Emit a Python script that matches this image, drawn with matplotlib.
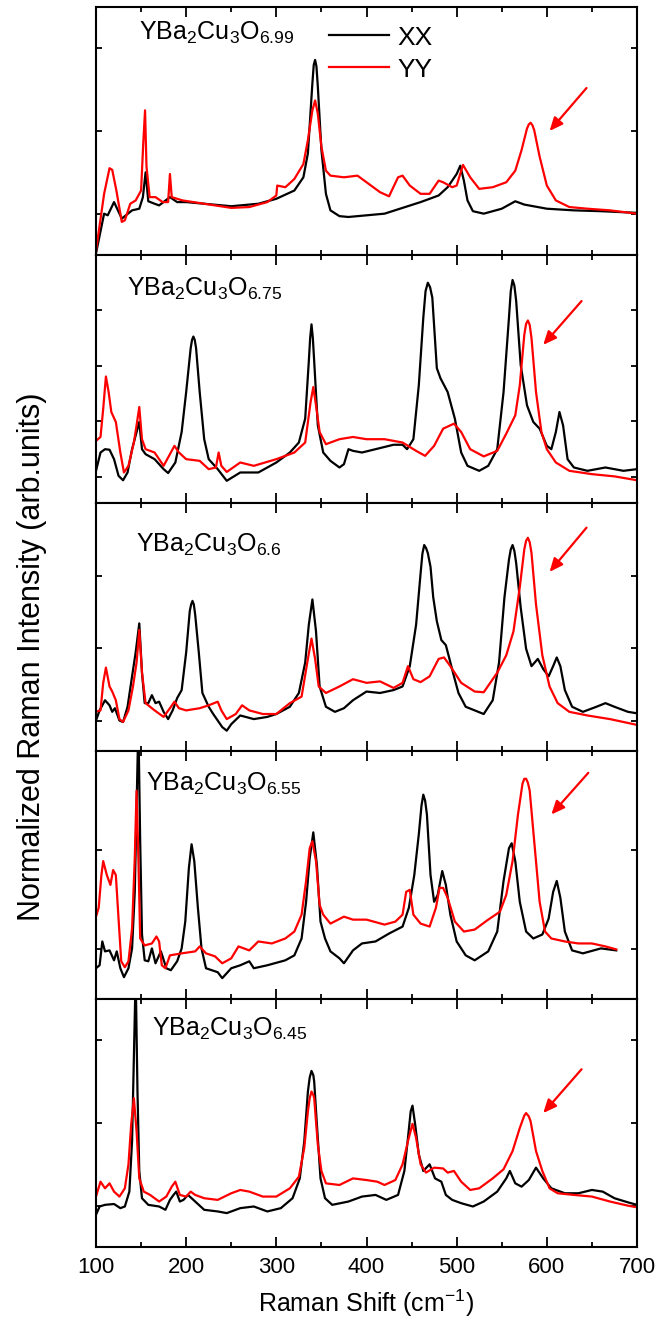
import matplotlib
matplotlib.use("Agg")
import matplotlib.pyplot as plt
from matplotlib.ticker import MultipleLocator

plt.rcParams['font.family'] = ['Liberation Sans', 'DejaVu Sans']
plt.rcParams['mathtext.fontset'] = 'custom'
plt.rcParams['mathtext.rm'] = 'Liberation Sans'
plt.rcParams['mathtext.it'] = 'Liberation Sans'
plt.rcParams['mathtext.default'] = 'rm'

# ---------------- data ----------------
labels = [r'YBa$_2$Cu$_3$O$_{6.99}$', r'YBa$_2$Cu$_3$O$_{6.75}$', r'YBa$_2$Cu$_3$O$_{6.6}$',
          r'YBa$_2$Cu$_3$O$_{6.55}$', r'YBa$_2$Cu$_3$O$_{6.45}$']
x_ticks = [100, 200, 300, 400, 500, 600, 700]

# each curve: (Raman shift, normalized intensity) pairs
p1_xx = [(100, -0.48), (109, 0.0), (113, -0.02), (120, 0.14), (128.6, -0.06), (140, 0.04), (148, 0.06),
         (152, 0.2), (155, 0.5), (158, 0.15), (165, 0.12), (170, 0.10), (182, 0.2), (190, 0.14), (200, 0.14),
         (230, 0.11), (250, 0.09), (280, 0.12), (300, 0.18), (320, 0.28), (330, 0.44), (335, 0.73),
         (340, 1.58), (341.5, 1.80), (343, 1.86), (344.5, 1.78), (346, 1.54), (350, 0.77), (355, 0.24),
         (360, 0.04), (370, -0.03), (380, -0.04), (400, -0.02), (420, 0.0), (440, 0.07), (460, 0.14),
         (480, 0.22), (490, 0.32), (500, 0.48), (504, 0.58), (508, 0.40), (512, 0.16), (518, 0.03),
         (530, 0.0), (550, 0.06), (565, 0.15), (575, 0.11), (600, 0.06), (630, 0.04), (660, 0.03), (700, 0.01)]
p1_yy = [(100, -0.45), (109, 0.24), (115, 0.55), (118, 0.53), (122.6, 0.28), (128.6, -0.1), (132, -0.08),
         (138, 0.12), (144, 0.16), (150, 0.28), (152.4, 0.85), (154.4, 1.25), (156, 0.57), (159.5, 0.2),
         (166, 0.2), (174, 0.14), (180, 0.14), (182, 0.48), (184, 0.2), (196, 0.16), (220, 0.12), (250, 0.07),
         (270, 0.08), (290, 0.14), (300, 0.22), (301, 0.34), (310, 0.32), (320, 0.42), (330, 0.6),
         (335, 0.89), (340, 1.25), (343, 1.37), (346, 1.21), (350, 0.81), (355, 0.52), (360, 0.46),
         (375, 0.44), (390, 0.46), (400, 0.38), (415, 0.26), (425, 0.21), (435, 0.44), (440, 0.46),
         (448, 0.34), (460, 0.24), (470, 0.24), (480, 0.40), (485, 0.38), (495, 0.32), (500, 0.34),
         (507, 0.59), (515, 0.44), (525, 0.30), (540, 0.32), (555, 0.38), (565, 0.52), (572, 0.77),
         (578, 1.03), (580, 1.08), (582, 1.10), (584, 1.07), (586, 1.01), (592, 0.69), (600, 0.34),
         (610, 0.16), (625, 0.08), (645, 0.06), (670, 0.04), (700, 0.0)]

p2_xx = [(100, 0.11), (105, 0.44), (110, 0.50), (115, 0.49), (120, 0.32), (125, 0.02), (130, -0.06),
         (135, 0.08), (140, 0.50), (145, 0.81), (148, 0.99), (151, 0.50), (155, 0.41), (165, 0.32),
         (175, 0.14), (180, 0.07), (188, 0.26), (195, 0.81), (200, 1.53), (205, 2.32), (206.5, 2.47),
         (208, 2.53), (209.5, 2.47), (211, 2.32), (215, 1.53), (220, 0.68), (225, 0.32), (235, 0.14),
         (245, -0.07), (260, 0.08), (280, 0.08), (300, 0.26), (315, 0.44), (325, 0.62), (332, 1.05),
         (336, 2.08), (337.5, 2.5), (339, 2.75), (340.5, 2.5), (342, 2.08), (346, 0.93), (352, 0.44),
         (360, 0.29), (370, 0.17), (375, 0.23), (380, 0.50), (385, 0.47), (395, 0.44), (410, 0.50),
         (430, 0.58), (440, 0.58), (445, 0.50), (452, 0.68), (458, 1.65), (463, 2.87), (465.5, 3.35),
         (468, 3.50), (470.5, 3.42), (473, 3.23), (478, 1.96), (482, 1.78), (490, 1.53), (498, 1.05),
         (505, 0.44), (512, 0.20), (525, 0.11), (535, 0.20), (545, 0.50), (552, 1.53), (558, 2.87),
         (560, 3.35), (562, 3.55), (564, 3.45), (566, 3.17), (571, 2.02), (578, 1.29), (585, 0.99),
         (592, 0.87), (600, 0.56), (605, 0.50), (610, 0.81), (614, 1.17), (618, 0.93), (623, 0.32),
         (630, 0.17), (645, 0.11), (665, 0.17), (685, 0.11), (700, 0.14)]
p2_yy = [(100, 0.65), (105, 0.72), (108, 1.23), (111, 1.81), (114, 1.53), (117, 1.17), (122, 0.99),
         (127, 0.44), (131, 0.08), (136, 0.20), (142, 0.62), (145, 0.93), (148, 1.26), (151, 0.68),
         (155, 0.50), (165, 0.44), (175, 0.20), (182, 0.41), (187, 0.56), (192, 0.44), (200, 0.32),
         (215, 0.29), (225, 0.14), (233, 0.17), (236, 0.44), (239, 0.20), (245, 0.09), (260, 0.26),
         (275, 0.20), (300, 0.32), (320, 0.44), (332, 0.62), (338, 1.35), (341, 1.62), (344, 1.29),
         (348, 0.81), (355, 0.59), (370, 0.68), (385, 0.72), (400, 0.68), (420, 0.68), (440, 0.62),
         (455, 0.47), (465, 0.38), (475, 0.56), (485, 0.87), (497, 0.96), (505, 0.81), (515, 0.50),
         (530, 0.37), (545, 0.47), (555, 0.78), (565, 1.11), (570, 1.65), (575, 2.56), (577, 2.76),
         (579, 2.82), (581, 2.74), (583, 2.50), (588, 1.53), (594, 0.81), (600, 0.50), (610, 0.26),
         (625, 0.11), (650, 0.05), (675, 0.01), (700, -0.06)]

p3_xx = [(100, 0.0), (104, 0.14), (110, 0.28), (115, 0.21), (118, 0.12), (121, 0.17), (126, 0.0),
         (130, -0.02), (135, 0.19), (140, 0.61), (144, 0.94), (148, 1.34), (151, 0.66), (154, 0.24),
         (158, 0.24), (162, 0.35), (166, 0.24), (170, 0.26), (175, 0.12), (180, 0.02), (185, 0.14),
         (190, 0.31), (195, 0.42), (200, 0.94), (204, 1.51), (205.5, 1.6), (207, 1.65), (208.5, 1.6),
         (210, 1.46), (214, 0.94), (218, 0.38), (225, 0.19), (230, 0.09), (240, -0.09), (245, -0.14),
         (250, -0.05), (260, 0.07), (275, 0.02), (290, 0.05), (300, 0.09), (315, 0.19), (325, 0.38),
         (332, 0.80), (336, 1.32), (340, 1.67), (344, 1.23), (348, 0.47), (355, 0.19), (365, 0.12),
         (375, 0.17), (385, 0.28), (400, 0.40), (415, 0.38), (430, 0.42), (440, 0.47), (448, 0.75),
         (455, 1.32), (460, 2.03), (462, 2.3), (464, 2.42), (466, 2.38), (468, 2.31), (471, 2.12),
         (474, 1.70), (478, 1.37), (483, 1.11), (488, 1.04), (492, 0.85), (497, 0.61), (502, 0.38),
         (510, 0.19), (520, 0.14), (530, 0.09), (540, 0.28), (547, 0.80), (553, 1.70), (558, 2.22),
         (560, 2.36), (562, 2.42), (564, 2.34), (566, 2.17), (571, 1.56), (577, 0.99), (583, 0.75),
         (590, 0.85), (596, 0.71), (602, 0.61), (607, 0.75), (611, 0.87), (615, 0.75), (620, 0.42),
         (628, 0.19), (640, 0.12), (655, 0.19), (665, 0.24), (675, 0.19), (690, 0.12), (700, 0.10)]
p3_yy = [(100, 0.12), (105, 0.14), (108, 0.52), (111, 0.73), (115, 0.47), (118, 0.40), (122, 0.28),
         (126, 0.02), (130, -0.02), (136, 0.14), (141, 0.47), (145, 0.80), (148, 1.25), (151, 0.66),
         (155, 0.24), (165, 0.14), (175, 0.05), (182, 0.17), (187, 0.26), (192, 0.17), (200, 0.14),
         (215, 0.17), (225, 0.21), (235, 0.26), (239, 0.14), (245, 0.02), (255, 0.09), (262, 0.21),
         (270, 0.14), (285, 0.09), (300, 0.09), (315, 0.24), (328, 0.33), (335, 0.85), (339, 1.13),
         (343, 0.85), (347, 0.47), (355, 0.38), (370, 0.47), (385, 0.57), (400, 0.52), (415, 0.54),
         (430, 0.45), (440, 0.52), (446, 0.75), (452, 0.57), (460, 0.53), (470, 0.61), (480, 0.85),
         (486, 0.87), (493, 0.75), (505, 0.52), (520, 0.40), (530, 0.39), (545, 0.66), (555, 0.90),
         (563, 1.23), (570, 1.84), (575, 2.36), (577, 2.48), (579, 2.52), (581, 2.46), (583, 2.31),
         (588, 1.60), (595, 0.90), (603, 0.47), (612, 0.24), (625, 0.12), (645, 0.07), (670, 0.02),
         (700, -0.06)]

p4_xx = [(100, -0.19), (104, -0.16), (107, 0.08), (110, -0.02), (115, -0.01), (120, -0.11), (123, -0.02),
         (127, -0.19), (131, -0.28), (136, -0.19), (140, 0.01), (143, 0.58), (145, 1.43), (147, 2.3),
         (149, 1.09), (151, 0.15), (154, -0.11), (158, -0.12), (162, 0.01), (166, -0.14), (170, -0.06),
         (172, -0.02), (178, -0.19), (183, -0.21), (190, -0.12), (195, 0.01), (199, 0.28), (203, 0.82),
         (206, 1.06), (209, 0.89), (213, 0.42), (217, 0.01), (222, -0.19), (235, -0.23), (240, -0.29),
         (250, -0.19), (260, -0.16), (270, -0.12), (275, -0.19), (290, -0.16), (310, -0.11), (320, -0.06),
         (328, 0.11), (333, 0.48), (337, 0.92), (341, 1.18), (345, 0.85), (349, 0.28), (354, 0.11),
         (360, -0.02), (370, -0.09), (375, -0.14), (385, -0.01), (395, 0.06), (410, 0.08), (425, 0.16),
         (440, 0.23), (447, 0.42), (453, 0.75), (458, 1.16), (461, 1.45), (463, 1.56), (465, 1.5),
         (467, 1.36), (471, 0.75), (475, 0.48), (479, 0.55), (484, 0.79), (488, 0.65), (493, 0.35),
         (500, 0.08), (510, -0.06), (520, -0.11), (535, -0.02), (545, 0.18), (552, 0.69), (558, 1.02),
         (561, 1.07), (565, 0.89), (570, 0.48), (577, 0.18), (585, 0.11), (595, 0.15), (602, 0.31),
         (607, 0.58), (611, 0.69), (615, 0.52), (620, 0.18), (628, -0.01), (640, -0.04), (660, 0.01),
         (677, -0.01)]
p4_yy = [(100, 0.33), (103, 0.42), (106, 0.75), (108, 0.89), (112, 0.75), (116, 0.65), (119, 0.80),
         (122, 0.75), (125, 0.31), (128, -0.12), (132, -0.18), (136, -0.12), (140, 0.21), (143, 0.92),
         (145, 1.60), (147, 0.92), (149, 0.11), (154, 0.04), (162, 0.06), (167, 0.13), (170, 0.08),
         (173, -0.16), (177, -0.19), (182, -0.06), (195, -0.04), (210, -0.02), (215, 0.03), (222, -0.04),
         (232, -0.07), (240, -0.14), (250, -0.09), (258, 0.03), (270, -0.01), (280, 0.08), (295, 0.06),
         (310, 0.11), (320, 0.18), (328, 0.35), (333, 0.69), (337, 1.02), (340, 1.09), (344, 0.89),
         (348, 0.45), (352, 0.35), (360, 0.26), (375, 0.33), (385, 0.30), (400, 0.30), (420, 0.25),
         (432, 0.28), (440, 0.35), (444, 0.58), (448, 0.60), (452, 0.35), (460, 0.26), (470, 0.23),
         (477, 0.42), (481, 0.62), (485, 0.62), (490, 0.52), (498, 0.28), (508, 0.18), (520, 0.20),
         (535, 0.30), (548, 0.38), (555, 0.55), (562, 0.89), (568, 1.36), (573, 1.67), (575, 1.72),
         (577, 1.72), (579, 1.68), (581, 1.60), (586, 1.09), (592, 0.48), (598, 0.18), (605, 0.11),
         (620, 0.08), (635, 0.06), (650, 0.06), (665, 0.03), (677, 0.0)]

p5_xx = [(100, -0.11), (104, -0.01), (110, 0.01), (120, 0.02), (127, -0.03), (132, -0.01), (137, 0.17),
         (140, 0.78), (142, 1.79), (144, 2.8), (146, 1.38), (148, 0.42), (151, 0.09), (158, 0.01),
         (170, -0.01), (177, -0.05), (182, 0.07), (186, 0.13), (189, 0.17), (193, 0.05), (197, 0.07),
         (202, 0.13), (210, 0.05), (220, -0.05), (235, -0.07), (245, -0.09), (260, -0.03), (275, -0.01),
         (290, -0.07), (305, -0.03), (318, 0.09), (326, 0.33), (331, 0.78), (335, 1.38), (337, 1.55),
         (339, 1.63), (341, 1.58), (342, 1.50), (345, 0.98), (349, 0.33), (354, 0.09), (362, 0.01),
         (380, 0.05), (395, 0.11), (410, 0.13), (422, 0.07), (435, 0.13), (442, 0.42), (446, 0.82),
         (449, 1.14), (451, 1.21), (454, 0.98), (458, 0.62), (463, 0.42), (470, 0.50), (476, 0.33),
         (483, 0.29), (488, 0.13), (495, 0.07), (505, 0.03), (518, -0.01), (530, 0.05), (545, 0.17),
         (555, 0.33), (559, 0.42), (565, 0.27), (572, 0.23), (580, 0.31), (588, 0.46), (596, 0.33),
         (605, 0.21), (620, 0.15), (635, 0.15), (650, 0.19), (662, 0.17), (675, 0.09), (690, 0.04),
         (700, 0.01)]
p5_yy = [(100, 0.11), (105, 0.29), (110, 0.21), (115, 0.27), (120, 0.17), (126, 0.11), (132, 0.21),
         (136, 0.50), (139, 0.98), (142, 1.30), (145, 0.90), (148, 0.33), (153, 0.17), (160, 0.13),
         (170, 0.05), (178, 0.11), (184, 0.23), (188, 0.29), (193, 0.13), (200, 0.11), (205, 0.17),
         (210, 0.13), (220, 0.09), (235, 0.07), (250, 0.15), (260, 0.19), (270, 0.17), (285, 0.11),
         (300, 0.11), (315, 0.21), (325, 0.35), (331, 0.70), (335, 1.14), (337, 1.30), (339, 1.38),
         (341, 1.34), (342, 1.30), (346, 0.74), (350, 0.42), (355, 0.27), (370, 0.25), (385, 0.33),
         (400, 0.31), (412, 0.29), (420, 0.25), (432, 0.31), (440, 0.50), (446, 0.78), (451, 0.99),
         (455, 0.82), (460, 0.50), (466, 0.40), (475, 0.46), (485, 0.45), (490, 0.40), (497, 0.42),
         (505, 0.29), (515, 0.19), (525, 0.21), (540, 0.33), (552, 0.44), (562, 0.66), (570, 0.94),
         (575, 1.09), (577, 1.12), (580, 1.08), (582, 1.02), (588, 0.66), (595, 0.42), (603, 0.21),
         (612, 0.15), (630, 0.13), (650, 0.11), (670, 0.05), (690, 0.0), (700, -0.02)]

xx_curves = [p1_xx, p2_xx, p3_xx, p4_xx, p5_xx]
yy_curves = [p1_yy, p2_yy, p3_yy, p4_yy, p5_yy]

y_limits = [(-0.5, 2.5), (-0.47, 4.0), (-0.42, 3.0), (-0.5, 2.0), (-0.5, 2.5)]
y_ticks = [[0, 1, 2], [0, 1, 2, 3], [0, 1, 2], [0, 1], [0, 1, 2]]
label_pos = [(148, 2.10), (134.5, 3.26), (144.4, 2.33), (156, 1.60), (162, 2.05)]
arrow_tail = [(644, 1.52), (638.5, 3.17), (644, 2.66), (646, 1.78), (638.5, 1.65)]
arrow_head = [(603, 1.0), (596, 2.38), (603, 2.05), (605, 1.36), (596, 1.12)]

# ---------------- figure ----------------
W, H = 669, 1324
fig = plt.figure(figsize=(W / 100, H / 100), dpi=100)
left, right = 96 / W, 637 / W
top_px, bot_px = 7, 1247
ph = (bot_px - top_px) / 5

axes = []
for i in range(5):
    y0 = 1 - (top_px + (i + 1) * ph) / H
    ax = fig.add_axes([left, y0, right - left, ph / H])
    axes.append(ax)
    xs, ys = zip(*xx_curves[i])
    ax.plot(xs, ys, color='black', lw=1.6, label='XX', solid_joinstyle='round')
    xs, ys = zip(*yy_curves[i])
    ax.plot(xs, ys, color='#ff0000', lw=1.6, label='YY', solid_joinstyle='round')
    ax.set_xlim(100, 700)
    ax.set_ylim(*y_limits[i])
    ax.set_yticks(y_ticks[i])
    ax.set_yticklabels([])
    ax.xaxis.set_major_locator(MultipleLocator(100))
    ax.xaxis.set_minor_locator(MultipleLocator(50))
    ax.tick_params(axis='x', which='major', direction='in', top=True, bottom=True, length=7, width=1.3)
    ax.tick_params(axis='x', which='minor', direction='in', top=True, bottom=True, length=3.6, width=1.3)
    ax.tick_params(axis='y', which='major', direction='in', left=True, right=True, length=4, width=1.3)
    for s in ax.spines.values():
        s.set_linewidth(1.5)
    ax.text(label_pos[i][0], label_pos[i][1], labels[i], fontsize=18, ha='left', va='baseline')
    ax.annotate('', xy=arrow_head[i], xytext=arrow_tail[i],
                arrowprops=dict(arrowstyle='-|>,head_length=0.8,head_width=0.35', color='#ff0000',
                                lw=1.6, shrinkA=0, shrinkB=0))
    if i < 4:
        ax.set_xticklabels([])
    else:
        ax.set_xticks(x_ticks)
        ax.set_xticklabels([str(t) for t in x_ticks], fontsize=16)
        ax.tick_params(axis='x', which='major', pad=7)

axes[0].legend(loc='upper left', bbox_to_anchor=(0.43, 0.925), frameon=False, fontsize=19,
               handlelength=2.3, handletextpad=0.3, labelspacing=0.3, borderpad=0, borderaxespad=0)

fig.text(366 / W, 1 - 1303 / H, r'Raman Shift (cm$^{-1}$)', fontsize=18, ha='center', va='center')
fig.text(32 / W, 1 - 657 / H, 'Normalized Raman Intensity (arb.units)', fontsize=22,
         rotation=90, ha='center', va='center')

fig.savefig('out.png', dpi=100)
